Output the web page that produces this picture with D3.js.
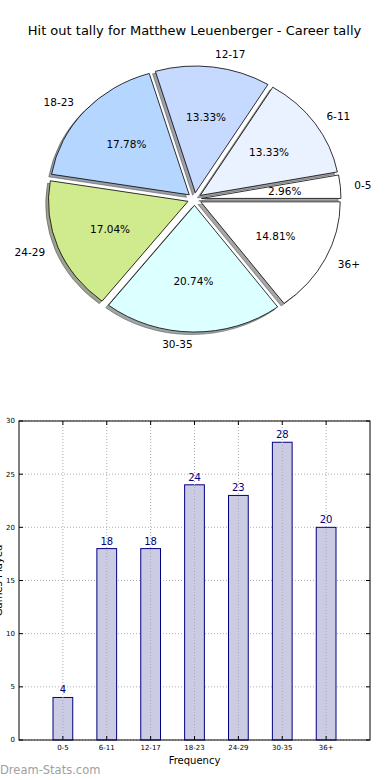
<!DOCTYPE html>
<html><head><meta charset="utf-8">
<script src="https://cdn.jsdelivr.net/npm/d3@7"></script>
<style>
body{margin:0;background:#fff}
svg{display:block;font-family:"DejaVu Sans",sans-serif}
</style>
</head><body>
<svg id="c" width="390" height="780"></svg>
<script>
const title = "Hit out tally for Matthew Leuenberger - Career tally";
const categories = ["0-5","6-11","12-17","18-23","24-29","30-35","36+"];
const values = [4,18,18,24,23,28,20];
const sliceColors = ["#ffffff","#eaf2ff","#c6d9ff","#b4d6ff","#d0ea8e","#dcffff","#ffffff"];
const yTicks = [0,5,10,15,20,25,30];
const xLabel = "Frequency";
const yLabel = "Games Played";
const watermark = "Dream-Stats.com";

const svg = d3.select("#c");

// Title
svg.append("text").attr("x",194.5).attr("y",35).attr("text-anchor","middle")
  .attr("font-size",13).attr("fill","#000").text(title);

// ---------- Pie ----------
const cx = 194.5, cy = 199, rx = 139.5, ry = 126.7, explode = 0.05;
const total = d3.sum(values);
const pie = d3.pie().sort(null).value(d=>d)
  .startAngle(Math.PI/2).endAngle(Math.PI/2 - 2*Math.PI);
const arcs = pie(values);
const arc = d3.arc().innerRadius(0).outerRadius(1);
const mid = d => (d.startAngle + d.endAngle)/2;
const dir = d => [Math.sin(mid(d)), -Math.cos(mid(d))];

const pg = svg.append("g").attr("transform",`translate(${cx},${cy})`);
const unit = pg.append("g").attr("transform",`scale(${rx},${ry})`);

// shadows
unit.selectAll("path.shadow").data(arcs).enter().append("path")
  .attr("class","shadow")
  .attr("d",arc)
  .attr("transform",d=>{const [ux,uy]=dir(d);return `translate(${ux*explode-0.02},${uy*explode+0.02})`;})
  .attr("fill",(d,i)=>{const c=d3.rgb(sliceColors[i]);return d3.rgb(c.r*0.3,c.g*0.3,c.b*0.3);})
  .attr("fill-opacity",0.5)
  .attr("stroke",(d,i)=>{const c=d3.rgb(sliceColors[i]);return d3.rgb(c.r*0.3,c.g*0.3,c.b*0.3);})
  .attr("stroke-opacity",0.5)
  .attr("stroke-width",1)
  .attr("vector-effect","non-scaling-stroke");

// wedges
unit.selectAll("path.wedge").data(arcs).enter().append("path")
  .attr("class","wedge")
  .attr("d",arc)
  .attr("transform",d=>{const [ux,uy]=dir(d);return `translate(${ux*explode},${uy*explode})`;})
  .attr("fill",(d,i)=>sliceColors[i])
  .attr("stroke","#000").attr("stroke-width",0.8)
  .attr("vector-effect","non-scaling-stroke");

// category labels
pg.selectAll("text.cat").data(arcs).enter().append("text")
  .attr("class","cat")
  .attr("x",d=>dir(d)[0]*(1.1+explode)*rx)
  .attr("y",d=>dir(d)[1]*(1.1+explode)*ry)
  .attr("dy","0.35em")
  .attr("text-anchor",d=>dir(d)[0]>0?"start":"end")
  .attr("font-size",10.5).attr("fill","#000")
  .text((d,i)=>categories[i]);

// percent labels
pg.selectAll("text.pct").data(arcs).enter().append("text")
  .attr("class","pct")
  .attr("x",d=>dir(d)[0]*(0.6+explode)*rx)
  .attr("y",d=>dir(d)[1]*(0.6+explode)*ry)
  .attr("dy","0.35em")
  .attr("text-anchor","middle")
  .attr("font-size",10.5).attr("fill","#000")
  .text(d=>(d.value/total*100).toFixed(2)+"%");

// ---------- Bar chart ----------
const L=19, R=370, T=421, B=740;
const x = d3.scaleLinear().domain([-1,7]).range([L,R]);
const y = d3.scaleLinear().domain([0,30]).range([B,T]);
const bw = x(0.45)-x(0);
const bg = svg.append("g");

// grid
bg.selectAll("line.gy").data(yTicks).enter().append("line")
  .attr("x1",L).attr("x2",R).attr("y1",d=>y(d)).attr("y2",d=>y(d))
  .attr("stroke","#b0b0b0").attr("stroke-width",1).attr("stroke-dasharray","1,2");

// bars
bg.selectAll("rect.bar").data(values).enter().append("rect")
  .attr("x",(d,i)=>x(i)-bw/2).attr("width",bw)
  .attr("y",d=>y(d)).attr("height",d=>B-y(d))
  .attr("fill","#cbcbe3")
  .attr("stroke","#000080").attr("stroke-width",1);
// vertical grid over bars
bg.selectAll("line.gx").data(categories).enter().append("line")
  .attr("x1",(d,i)=>x(i)).attr("x2",(d,i)=>x(i)).attr("y1",T).attr("y2",B)
  .attr("stroke","#a8a8b8").attr("stroke-width",1).attr("stroke-dasharray","1,2");

// value labels
bg.selectAll("text.val").data(values).enter().append("text")
  .attr("x",(d,i)=>x(i)).attr("y",d=>y(d)-4)
  .attr("text-anchor","middle").attr("font-size",10).attr("fill","#000080")
  .text(d=>d);

// frame
bg.append("rect").attr("x",L).attr("y",T).attr("width",R-L).attr("height",B-T)
  .attr("fill","none").attr("stroke","#000").attr("stroke-width",1);

// ticks
bg.selectAll("line.tl").data(yTicks).enter().append("line")
  .attr("x1",L).attr("x2",L+4).attr("y1",d=>y(d)).attr("y2",d=>y(d)).attr("stroke","#000");
bg.selectAll("line.tr").data(yTicks).enter().append("line")
  .attr("x1",R-4).attr("x2",R).attr("y1",d=>y(d)).attr("y2",d=>y(d)).attr("stroke","#000");
bg.selectAll("line.tb").data(categories).enter().append("line")
  .attr("x1",(d,i)=>x(i)).attr("x2",(d,i)=>x(i)).attr("y1",B-4).attr("y2",B).attr("stroke","#000");
bg.selectAll("line.tt").data(categories).enter().append("line")
  .attr("x1",(d,i)=>x(i)).attr("x2",(d,i)=>x(i)).attr("y1",T).attr("y2",T+4).attr("stroke","#000");

// tick labels
bg.selectAll("text.yt").data(yTicks).enter().append("text")
  .attr("x",L-4).attr("y",d=>y(d)).attr("dy","0.35em")
  .attr("text-anchor","end").attr("font-size",7).attr("fill","#000").text(d=>d);
bg.selectAll("text.xt").data(categories).enter().append("text")
  .attr("x",(d,i)=>x(i)).attr("y",B+8).attr("dy","0.35em")
  .attr("text-anchor","middle").attr("font-size",7).attr("fill","#000").text(d=>d);

// axis labels
bg.append("text").attr("x",(L+R)/2).attr("y",763.5).attr("text-anchor","middle")
  .attr("font-size",10).attr("fill","#000").text(xLabel);
bg.append("text").attr("transform",`translate(2,${(T+B)/2}) rotate(-90)`)
  .attr("text-anchor","middle").attr("font-size",10).attr("fill","#000").text(yLabel);

// watermark
svg.append("text").attr("x",0).attr("y",774).attr("font-size",11.5)
  .attr("fill","#a0a0a0").text(watermark);
</script>
</body></html>
